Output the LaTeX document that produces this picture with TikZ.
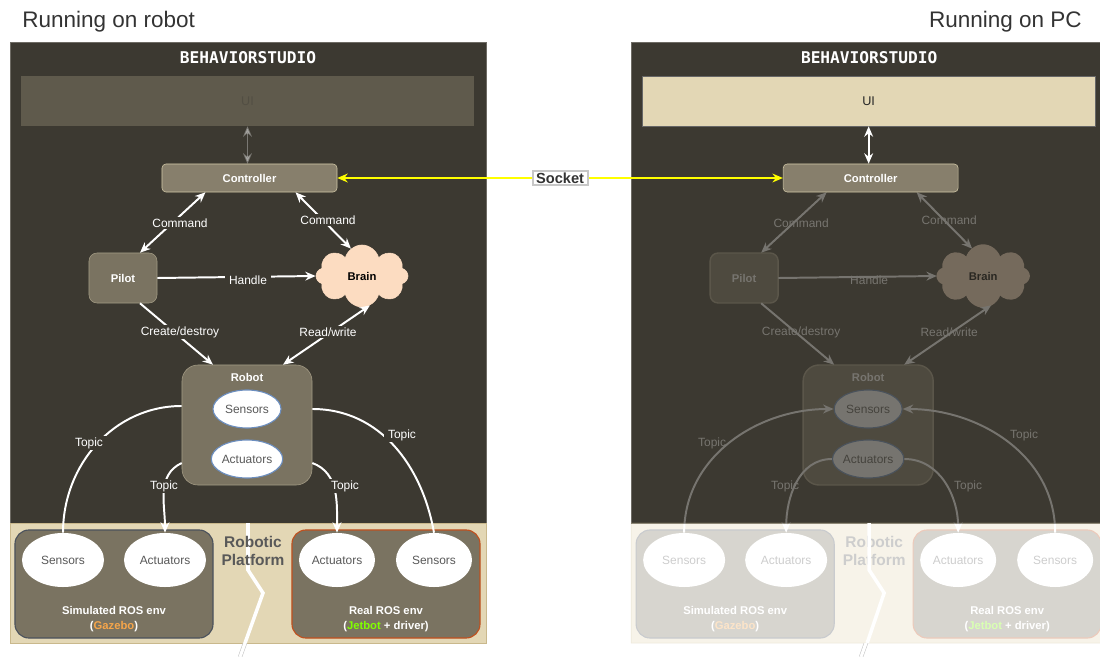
\documentclass[tikz,border=0pt]{standalone}
\usepackage{fontspec}
\setmainfont{Liberation Sans}
\setmonofont{DejaVu Sans Mono}
\usetikzlibrary{arrows.meta,shapes.geometric,shapes.symbols}
\definecolor{bsdark}{HTML}{3C3931}
\definecolor{bsedge}{HTML}{6E6B64}
\definecolor{bsbeige}{HTML}{E3D7B5}
\definecolor{bsbeigeedge}{HTML}{C9B88C}
\definecolor{bsctrl}{HTML}{877F6C}
\definecolor{bsctrledge}{HTML}{D3C9A8}
\definecolor{bsbox}{HTML}{7A7361}
\definecolor{bsboxedge}{HTML}{A39B84}
\definecolor{bspeach}{HTML}{FCDCC1}
\definecolor{bsblue}{HTML}{6C8EBF}
\definecolor{bsgrey}{HTML}{595959}
\definecolor{bstitle}{HTML}{333333}
\definecolor{bssim}{HTML}{4B525C}
\definecolor{bsreal}{HTML}{C0501E}
\definecolor{bsgazebo}{HTML}{F5A54A}
\definecolor{bsjetbot}{HTML}{80FF00}
\definecolor{bsyellow}{HTML}{FFFF00}

\begin{document}
\begin{tikzpicture}[x=0.025cm, y=-0.025cm,
  wire/.style={white, line width=1.4pt},
  arrone/.style={wire, -{Stealth[length=2.6mm,width=2.2mm]}},
  arrtwo/.style={wire, {Stealth[length=2.6mm,width=2.2mm]}-{Stealth[length=2.6mm,width=2.2mm]}},
  sock/.style={draw=bsyellow, line width=1.4pt, {Stealth[length=2.6mm,width=2.2mm]}-{Stealth[length=2.6mm,width=2.2mm]}},
  sockbox/.style={fill=white, draw=black!22, text=bstitle, font=\fontsize{10.4}{12}\selectfont\bfseries, inner xsep=2.5pt, inner ysep=1.5pt},
  heading/.style={text=bstitle, font=\fontsize{16}{19}\selectfont, inner sep=0pt},
  studio/.style={text=white, font=\ttfamily\bfseries\fontsize{11.5}{13}\selectfont},
  panel/.style={fill=bsdark, draw=bsedge, line width=0.5pt},
  ground/.style={fill=bsbeige, draw=bsbeigeedge, line width=0.5pt},
  txt/.style={text=white, font=\fontsize{8.5}{10}\selectfont, inner xsep=3pt, inner ysep=1pt},
  lbl/.style={txt, fill=bsdark},
  btxt/.style={text=white, font=\fontsize{8}{9.6}\selectfont\bfseries},
  uibox/.style={fill=bsbeige, text=black!85, font=\fontsize{9}{11}\selectfont, minimum width=11.325cm, minimum height=1.25cm},
  ctrlbox/.style={btxt, draw=bsctrledge, fill=bsctrl, rounded corners=0.1cm, minimum width=4.375cm, minimum height=0.7cm},
  pilotbox/.style={btxt, draw=bsboxedge, fill=bsbox, rounded corners=0.2cm, minimum width=1.7cm, minimum height=1.25cm},
  brainshape/.style={cloud, cloud puffs=8, cloud ignores aspect, fill=bspeach, draw=bspeach, text=black, font=\fontsize{8}{9.6}\selectfont\bfseries, minimum width=2.3cm, minimum height=1.55cm},
  robotbox/.style={draw=bsboxedge, fill=bsbox, rounded corners=0.4cm, minimum width=3.25cm, minimum height=3cm},
  part/.style={ellipse, draw=bsblue, line width=0.8pt, fill=white, text=bsgrey, font=\fontsize{8.5}{10}\selectfont, minimum width=1.7cm, minimum height=0.95cm, inner sep=0pt},
  envbox/.style={fill=bsbox, rounded corners=0.35cm, minimum height=2.7cm, line width=0.8pt},
  envpart/.style={ellipse, fill=white, text=bsgrey, font=\fontsize{8.5}{10}\selectfont, minimum height=1.35cm, inner sep=0pt},
  envname/.style={btxt, align=center, font=\fontsize{8}{10.7}\selectfont\bfseries},
  platform/.style={text=bsgrey, align=center, font=\fontsize{11}{12.8}\selectfont\bfseries},
  crack/.style={white, line width=2.5pt}]
\clip (0,0) rectangle (1100,657);
\node[heading, anchor=base west] (robottitle) at (22,27.3) {Running on robot};
\node[heading, anchor=base east] (pctitle) at (1082,27.3) {Running on PC};

\draw[panel] (10,42) rectangle (486,523);
\draw[ground] (10,523) rectangle (486,643);
\draw[crack] (248,523) -- (248,570) -- (263,593) -- (240,657);
\node[studio] (lname) at (248,58) {BEHAVIORSTUDIO};
\node[uibox, opacity=0.21] (lui) at (247.5,101) {UI};
\node[ctrlbox] (lctrl) at (249.5,178) {Controller};
\draw[arrtwo, opacity=0.32] (lui.south) -- (lui.south |- lctrl.north);
\node[pilotbox] (lpilot) at (123,278) {Pilot};
\node[brainshape] (lbrain) at (362,276) {Brain};
\node[robotbox] (lrobot) at (247,425) {};
\node[btxt] (lrobotname) at (247,377) {Robot};
\node[part] (lrobsens) at (247,409) {Sensors};
\node[part] (lrobact) at (247,459) {Actuators};
\node[envbox, draw=bssim, minimum width=4.95cm] (lsimbox) at (114,584) {};
\node[envpart, minimum width=2.05cm] (lsimsens) at (63,560) {Sensors};
\node[envpart, minimum width=2.05cm] (lsimact) at (165,560) {Actuators};
\node[envname] (lsimname) at (114,619) {Simulated ROS env\\(\textcolor{bsgazebo}{Gazebo})};
\node[envbox, draw=bsreal, minimum width=4.7cm] (lrealbox) at (386,584) {};
\node[envpart, minimum width=1.9cm] (lrealact) at (337,560) {Actuators};
\node[envpart, minimum width=1.9cm] (lrealsens) at (434,560) {Sensors};
\node[envname] (lrealname) at (386,619) {Real ROS env\\(\textcolor{bsjetbot}{Jetbot} + driver)};
\node[platform] (lplatform) at (253,551) {Robotic\\Platform};
\draw[arrtwo] ([xshift=-1.1cm]lctrl.south) -- ([xshift=0.425cm]lpilot.north);
\draw[arrtwo] ([xshift=1.15cm]lctrl.south) -- (lbrain.112);
\draw[arrone] (lpilot.east) -- (lbrain.west);
\draw[arrone] ([xshift=0.425cm]lpilot.south) -- ([xshift=-0.85cm]lrobot.north);
\draw[arrtwo] ([xshift=0.9cm]lrobot.north) -- (lbrain.285);
\draw[wire] ([yshift=0.475cm]lrobot.west) to[out=180,in=90] (lsimsens.north);
\draw[arrone] ([yshift=-0.95cm]lrobot.west) to[out=205,in=90] (lsimact.north);
\draw[arrone] ([yshift=-0.95cm]lrobot.east) to[out=-20,in=90] (lrealact.north);
\draw[wire] ([yshift=0.4cm]lrobot.east) to[out=0,in=100] (lrealsens.north);
\node[lbl] (lcmdpilot) at (180,223) {Command};
\node[lbl] (lcmdbrain) at (328,220) {Command};
\node[lbl] (lhandle) at (248,280) {Handle};
\node[lbl] (lcreate) at (180,332) {Create/destroy};
\node[lbl] (lread) at (328,332) {Read/write};
\node[lbl] (ltopicsens) at (89,443) {Topic};
\node[lbl] (ltopicact) at (164,486) {Topic};
\node[lbl] (ltopicreal) at (345,486) {Topic};
\node[lbl] (ltopicrs) at (402,435) {Topic};

\begin{scope}[xshift=15.525cm]
\draw[panel] (10,42) rectangle (490,523);
\node[studio] (rname) at (248,58) {BEHAVIORSTUDIO};
\node[uibox, draw=black!60] (rui) at (247.5,101) {UI};
\node[ctrlbox] (rctrl) at (249.5,178) {Controller};
\draw[arrtwo] (rui.south) -- (rui.south |- rctrl.north);
\begin{scope}[transparency group, opacity=0.3]
\draw[ground] (10,523) rectangle (490,643);
\node[pilotbox] (rpilot) at (123,278) {Pilot};
\node[brainshape] (rbrain) at (362,276) {Brain};
\node[robotbox] (rrobot) at (247,425) {};
\node[btxt] (rrobotname) at (247,377) {Robot};
\node[part] (rrobsens) at (247,409) {Sensors};
\node[part] (rrobact) at (247,459) {Actuators};
\node[envbox, draw=bssim, minimum width=4.95cm] (rsimbox) at (114,584) {};
\node[envpart, minimum width=2.05cm] (rsimsens) at (63,560) {Sensors};
\node[envpart, minimum width=2.05cm] (rsimact) at (165,560) {Actuators};
\node[envname] (rsimname) at (114,619) {Simulated ROS env\\(\textcolor{bsgazebo}{Gazebo})};
\node[envbox, draw=bsreal, minimum width=4.7cm] (rrealbox) at (386,584) {};
\node[envpart, minimum width=1.9cm] (rrealact) at (337,560) {Actuators};
\node[envpart, minimum width=1.9cm] (rrealsens) at (434,560) {Sensors};
\node[envname] (rrealname) at (386,619) {Real ROS env\\(\textcolor{bsjetbot}{Jetbot} + driver)};
\node[platform] (rplatform) at (253,551) {Robotic\\Platform};
\draw[arrtwo] ([xshift=-1.1cm]rctrl.south) -- ([xshift=0.425cm]rpilot.north);
\draw[arrtwo] ([xshift=1.15cm]rctrl.south) -- (rbrain.112);
\draw[arrone] (rpilot.east) -- (rbrain.west);
\draw[arrone] ([xshift=0.425cm]rpilot.south) -- ([xshift=-0.85cm]rrobot.north);
\draw[arrtwo] ([xshift=0.9cm]rrobot.north) -- (rbrain.285);
\draw[arrone] (rsimsens.north) to[out=90,in=180] (rrobsens.west);
\draw[arrone] (rrobact.west) to[out=180,in=90] (rsimact.north);
\draw[arrone] (rrobact.east) to[out=0,in=90] (rrealact.north);
\draw[arrone] (rrealsens.north) to[out=90,in=0] (rrobsens.east);
\node[txt] (rcmdpilot) at (180,223) {Command};
\node[txt] (rcmdbrain) at (328,220) {Command};
\node[txt] (rhandle) at (248,280) {Handle};
\node[txt] (rcreate) at (180,332) {Create/destroy};
\node[txt] (rread) at (328,332) {Read/write};
\node[txt] (rtopicsens) at (91,443) {Topic};
\node[txt] (rtopicact) at (164,486) {Topic};
\node[txt] (rtopicreal) at (347,486) {Topic};
\node[txt] (rtopicrs) at (403,435) {Topic};
\end{scope}
\draw[crack] (248,523) -- (248,570) -- (263,593) -- (246,643);
\end{scope}

\begin{scope}
\clip (0,643) rectangle (1100,657);
\draw[gray!45, line width=0.4pt, double=white, double distance=2.2pt] (263,593) -- (240,657);
\draw[gray!45, line width=0.4pt, double=white, double distance=2.2pt] (884,593) -- (861,657);
\end{scope}

\draw[sock] (lctrl.east) -- node[sockbox] (socket) {Socket} (rctrl.west);
\end{tikzpicture}
\end{document}
